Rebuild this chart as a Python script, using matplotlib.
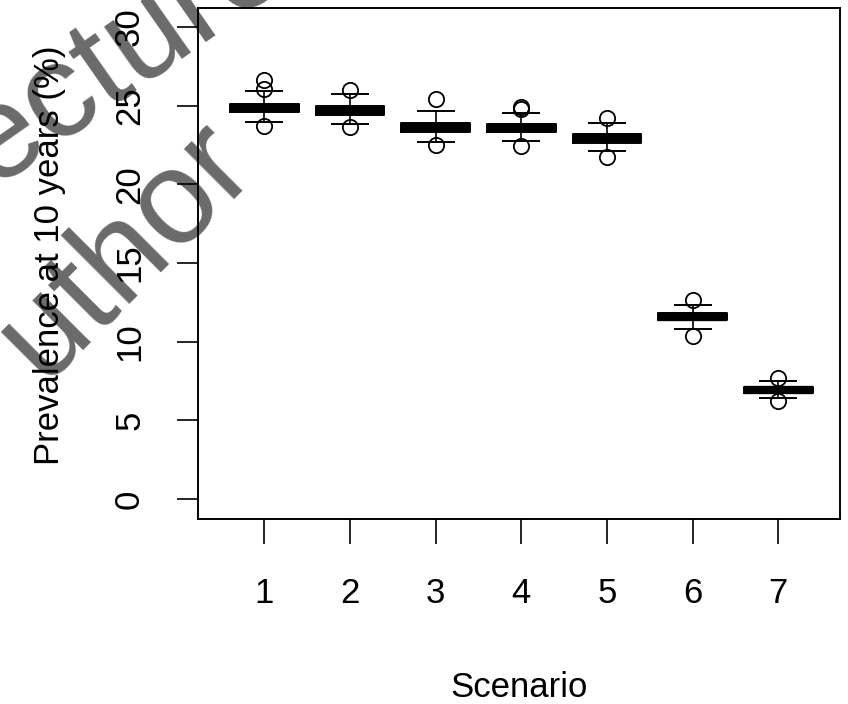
"""
Boxplot of prevalence at 10 years by scenario (R-style base graphics look).
"""
import matplotlib
matplotlib.use("Agg")
import matplotlib.pyplot as plt

# ---------------------------------------------------------------------
# data
# ---------------------------------------------------------------------
scenarios = [1, 2, 3, 4, 5, 6, 7]
medians = [24.87, 24.68, 23.62, 23.60, 22.92, 11.58, 6.92]
q1 = [24.60, 24.42, 23.35, 23.35, 22.65, 11.35, 6.75]
q3 = [25.12, 24.95, 23.90, 23.85, 23.20, 11.80, 7.10]
whisker_lo = [23.95, 23.80, 22.70, 22.75, 22.10, 10.80, 6.45]
whisker_hi = [25.93, 25.72, 24.65, 24.50, 23.90, 12.35, 7.50]
outliers = [
    [23.70, 26.05, 26.60],
    [23.62, 25.99],
    [22.50, 25.40],
    [22.45, 24.80, 24.90],
    [21.75, 24.20],
    [10.35, 12.65],
    [6.22, 7.70],
]
y_ticks = [0, 5, 10, 15, 20, 25, 30]

plt.rcParams["font.family"] = ["Liberation Sans", "DejaVu Sans"]

W, H = 848, 704
fig = plt.figure(figsize=(W / 100, H / 100), dpi=100, facecolor="white")

# plot box in pixel terms: left 197, right 840, top 8, bottom 519
ax = fig.add_axes([197.5 / W, 1 - 519 / H, (840 - 197.5) / W, (519 - 8) / H])
ax.set_facecolor("none")  # let the watermark underneath show through

stats = []
for i in range(len(scenarios)):
    stats.append(dict(med=medians[i], q1=q1[i], q3=q3[i],
                      whislo=whisker_lo[i], whishi=whisker_hi[i],
                      fliers=outliers[i]))

ax.bxp(stats, positions=scenarios, widths=0.8, capwidths=0.42,
       boxprops=dict(color="black", linewidth=1.4),
       medianprops=dict(color="black", linewidth=6, solid_capstyle="butt"),
       whiskerprops=dict(color="black", linewidth=1.2),
       capprops=dict(color="black", linewidth=1.4),
       flierprops=dict(marker="o", markerfacecolor="none",
                       markeredgecolor="black", markersize=11,
                       markeredgewidth=1.3))

ax.set_xlim(0.22, 7.72)
ax.set_ylim(-1.27, 31.2)
ax.set_xticks(scenarios)
ax.set_xticklabels([str(s) for s in scenarios])
ax.set_yticks(y_ticks)
ax.set_yticklabels([str(v) for v in y_ticks], rotation=90, va="center")

ax.tick_params(axis="x", direction="out", length=18, width=1.2,
               pad=24, labelsize=25)
ax.tick_params(axis="y", direction="out", length=15, width=1.2,
               pad=22, labelsize=25)
for sp in ax.spines.values():
    sp.set_linewidth(1.4)

ax.set_xlabel("Scenario", fontsize=25, labelpad=44)
fig.text(50 / W, 1 - 255 / H, "Prevalence at 10 years (%)", fontsize=25,
         rotation=90, ha="center", va="center")

# watermark underneath everything, only the part visible in the canvas
wm_color = "#6a6a6a"
for word, (px, py), rot in [("ecture", (124, 54), 35),
                            ("uthor", (126, 250), 45)]:
    fig.text(px / W, 1 - py / H, word, fontsize=96, color=wm_color,
             rotation=rot, ha="center", va="center", rotation_mode="anchor",
             zorder=-5)

fig.savefig("out.png", dpi=100, facecolor="white")
